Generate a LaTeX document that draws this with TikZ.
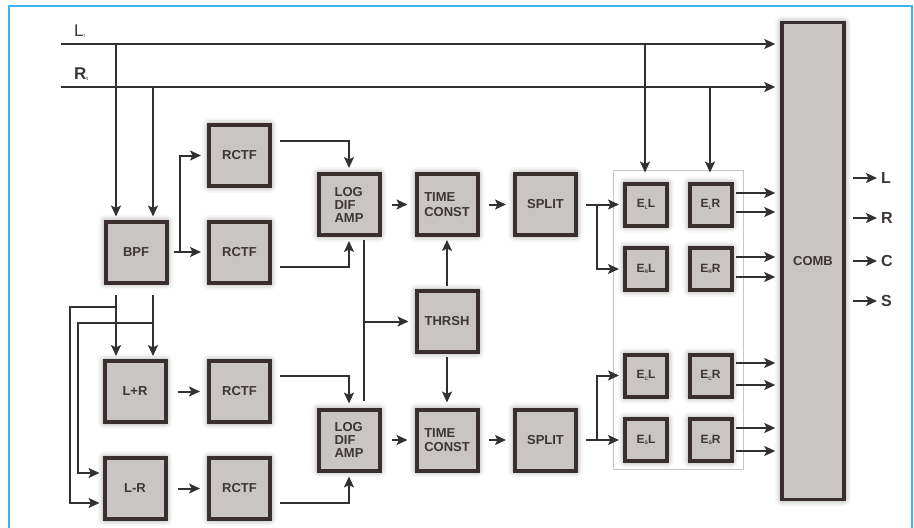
\documentclass[tikz,border=0pt]{standalone}
\usepackage{fontspec}
\setmainfont{Liberation Sans}
\usetikzlibrary{arrows.meta,shadows.blur,calc}
\definecolor{boxfill}{HTML}{C9C5C4}
\definecolor{boxline}{HTML}{3A2F2F}
\definecolor{linec}{HTML}{333030}
\definecolor{txt}{HTML}{3C3636}
\definecolor{framec}{HTML}{3FB6E6}
\newcommand\esub[1]{\raisebox{-1.5pt}{\fontsize{5}{5}\selectfont #1}}
\tikzset{
 blk/.style={draw=boxline, fill=boxfill, line width=4pt, minimum width=61pt, minimum height=61pt,
   inner sep=0pt, text=txt, font=\fontsize{13}{13}\selectfont\bfseries, align=left,
   blur shadow={shadow xshift=0pt, shadow yshift=0pt, shadow blur radius=7pt, shadow opacity=50}},
 tcblk/.style={blk, font=\fontsize{13}{14.5}\selectfont\bfseries},
 eblk/.style={blk, minimum width=42pt, minimum height=42pt, font=\fontsize{12}{12}\selectfont\bfseries},
 con/.style={draw=linec, line width=2pt},
 arr/.style={con, -{Stealth[length=11pt,width=10pt,inset=2.5pt]}},
 lbl/.style={text=txt, inner sep=0pt, anchor=west},
}
\begin{document}
\begin{tikzpicture}[x=1pt,y=-1pt]
\useasboundingbox (0,0) rectangle (914,528);
% frame
\draw[framec, line width=2pt] (9,528) -- (9,6) -- (912,6) -- (912,528);
% container of E blocks
\draw[gray!45, line width=0.8pt] (613,170) rectangle (743,469);

% blocks
\node[blk] (bpf) at (136,252) {BPF};
\node[blk] (rc1) at (239.5,155.5) {RCTF};
\node[blk] (rc2) at (239.5,252.5) {RCTF};
\node[blk] (log1) at (349,204.5) {LOG\\DIF\\AMP};
\node[tcblk] (tc1) at (447,204.5) {TIME\\CONST};
\node[blk] (sp1) at (545.5,204.5) {SPLIT};
\node[blk] (thr) at (447,321.5) {THRSH};
\node[blk] (log2) at (349,440) {LOG\\DIF\\AMP};
\node[tcblk] (tc2) at (447,440) {TIME\\CONST};
\node[blk] (sp2) at (545.5,440) {SPLIT};
\node[blk] (lpr) at (135,391.5) {L+R};
\node[blk] (rc3) at (239.5,391.5) {RCTF};
\node[blk] (lmr) at (135,488.5) {L-R};
\node[blk] (rc4) at (239.5,488.5) {RCTF};
\node[eblk] (e1) at (646,204.5) {E\esub{L}L};
\node[eblk] (e2) at (710.5,204.5) {E\esub{L}R};
\node[eblk] (e3) at (646,269) {E\esub{R}L};
\node[eblk] (e4) at (710.5,269) {E\esub{R}R};
\node[eblk] (e5) at (646,375.5) {E\esub{C}L};
\node[eblk] (e6) at (710.5,375.5) {E\esub{C}R};
\node[eblk] (e7) at (646,440) {E\esub{S}L};
\node[eblk] (e8) at (710.5,440) {E\esub{S}R};
\node[blk, line width=3.5pt, minimum width=62pt, minimum height=477pt] (comb) at (813,261) {COMB};

% labels
\node[lbl, font=\fontsize{17}{17}\selectfont] (lt) at (74,31) {L\esub{t}};
\node[lbl, font=\fontsize{17}{17}\selectfont\bfseries] (rt) at (74,74) {R\esub{t}};
\node[lbl, font=\fontsize{16}{16}\selectfont\bfseries] (oL) at (881,178) {L};
\node[lbl, font=\fontsize{16}{16}\selectfont\bfseries] (oR) at (881,218) {R};
\node[lbl, font=\fontsize{16}{16}\selectfont\bfseries] (oC) at (881,261) {C};
\node[lbl, font=\fontsize{16}{16}\selectfont\bfseries] (oS) at (881,301) {S};

% input buses
\coordinate (Lin) at (61,44);
\coordinate (Rin) at (61,87);
\draw[arr, shorten >=5pt] (Lin) -- (Lin -| comb.west);
\draw[arr, shorten >=5pt] (Rin) -- (Rin -| comb.west);
\coordinate (l1) at (116,44); \coordinate (r1) at (153,87);
\draw[arr, shorten >=3pt] (l1) -- (l1 |- bpf.north);
\draw[arr, shorten >=3pt] (r1) -- (r1 |- bpf.north);
\coordinate (l2) at (645,44); \coordinate (r2) at (710,87);
\draw[arr, shorten >=9pt] (l2) -- (l2 |- e1.north);
\draw[arr, shorten >=9pt] (r2) -- (r2 |- e2.north);

% BPF to RCTFs
\coordinate (b1) at (180,252);
\draw[con] ([xshift=5pt]bpf.east) -- (b1);
\draw[arr, shorten >=6pt] (b1) -- (b1 -| rc2.west);
\draw[arr, shorten >=6pt] (b1) |- (rc1.west);

% RCTF to LOG (top)
\draw[arr, shorten <=8pt, shorten >=4pt] ([yshift=15pt]rc1.east) -| (log1.north);
\draw[arr, shorten <=8pt, shorten >=4pt] ([yshift=-14pt]rc2.east) -| (log1.south);
\draw[arr, shorten <=10pt, shorten >=7pt] (log1.east) -- (tc1.west);
\draw[arr, shorten <=9pt, shorten >=7pt] (tc1.east) -- (sp1.west);
\coordinate (s1) at (597,204.5);
\draw[con, shorten <=8pt] (sp1.east) -- (s1);
\draw[arr, shorten >=4pt] (s1) -- (e1.west);
\draw[arr, shorten >=4pt] (s1) |- (e3.west);

% LOG to THRSH
\coordinate (v0) at ([xshift=15pt]log1.south);
\coordinate (v1) at ([xshift=15pt]log2.north);
\draw[con, shorten <=3pt, shorten >=7pt] (v0) -- (v1);
\draw[arr, shorten >=6pt] (v0 |- thr.west) -- (thr.west);
\draw[arr, shorten <=3pt, shorten >=3pt] (thr.north) -- (tc1.south);
\draw[arr, shorten <=3pt, shorten >=5pt] (thr.south) -- (tc2.north);

% bottom chain
\draw[arr, shorten <=10pt, shorten >=7pt] (log2.east) -- (tc2.west);
\draw[arr, shorten <=9pt, shorten >=7pt] (tc2.east) -- (sp2.west);
\coordinate (s2) at (597,440);
\draw[con, shorten <=8pt] (sp2.east) -- (s2);
\draw[arr, shorten >=4pt] (s2) -- (e7.west);
\draw[arr, shorten >=4pt] (s2) |- (e5.west);

% BPF to L+R / L-R
\coordinate (bl) at (116,295); \coordinate (br) at (153,295);
\draw[arr, shorten >=3pt] (bl) -- (bl |- lpr.north);
\draw[arr, shorten >=3pt] (br) -- (br |- lpr.north);
\coordinate (k1) at (116,307); \coordinate (k2) at (70,503);
\coordinate (k3) at (153,323); \coordinate (k4) at (78,473);
\draw[arr, shorten >=3pt] (k1) -| (k2) -- (k2 -| lmr.west);
\draw[arr, shorten >=3pt] (k3) -| (k4) -- (k4 -| lmr.west);
\draw[arr, shorten <=10pt, shorten >=7pt] (lpr.east) -- (rc3.west);
\draw[arr, shorten <=10pt, shorten >=7pt] (lmr.east) -- (rc4.west);
\draw[arr, shorten <=8pt, shorten >=4pt] ([yshift=16pt]rc3.east) -| (log2.north);
\draw[arr, shorten <=8pt, shorten >=4pt] ([yshift=-14pt]rc4.east) -| (log2.south);

% E outputs to COMB
\foreach \n/\y in {a/193,b/212,c/257,d/277,e/363,f/385,g/428,h/451}{
  \coordinate (o\n) at (736,\y);
  \draw[arr, shorten >=5pt] (o\n) -- (o\n -| comb.west);
}
% COMB outputs
\foreach \t in {L,R,C,S}{
  \coordinate (q\t) at (853,0);
  \draw[arr, shorten >=4pt] (q\t |- o\t.west) -- (o\t.west);
}
\end{tikzpicture}
\end{document}
